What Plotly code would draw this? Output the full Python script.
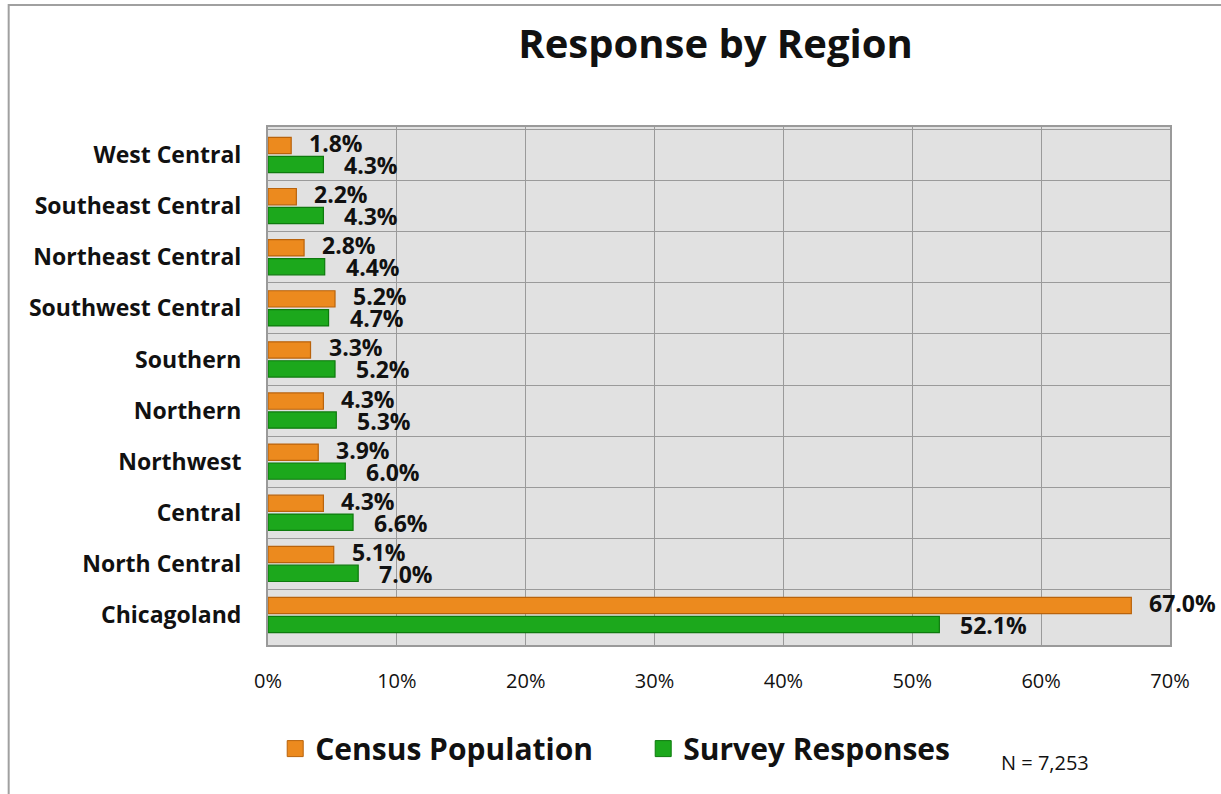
import plotly.graph_objects as go

# Regions listed top to bottom as they appear on the chart
regions = ["West Central", "Southeast Central", "Northeast Central", "Southwest Central",
           "Southern", "Northern", "Northwest", "Central", "North Central", "Chicagoland"]
census_population = [1.8, 2.2, 2.8, 5.2, 3.3, 4.3, 3.9, 4.3, 5.1, 67.0]
survey_responses = [4.3, 4.3, 4.4, 4.7, 5.2, 5.3, 6.0, 6.6, 7.0, 52.1]
x_ticks = [0, 10, 20, 30, 40, 50, 60, 70]
x_tick_labels = ["0%", "10%", "20%", "30%", "40%", "50%", "60%", "70%"]

FONT = "'Open Sans', Lato, sans-serif"
ORANGE, ORANGE_EDGE = "#EC8A1E", "#B9630C"
GREEN, GREEN_EDGE = "#1CA81C", "#0D7A0D"

fig = go.Figure()
fig.add_trace(go.Bar(
    name="Census Population", y=regions, x=census_population, orientation="h",
    marker=dict(color=ORANGE, line=dict(color=ORANGE_EDGE, width=1.2)),
    showlegend=False, hovertemplate="%{y}: %{x:.1f}%<extra></extra>",
))
fig.add_trace(go.Bar(
    name="Survey Responses", y=regions, x=survey_responses, orientation="h",
    marker=dict(color=GREEN, line=dict(color=GREEN_EDGE, width=1.2)),
    showlegend=False, hovertemplate="%{y}: %{x:.1f}%<extra></extra>",
))

# Legend entries with larger square swatches
for name, col, edge in [("Census Population", ORANGE, ORANGE_EDGE),
                        ("Survey Responses", GREEN, GREEN_EDGE)]:
    fig.add_trace(go.Scatter(
        name=name, x=[None], y=[None], mode="markers",
        marker=dict(symbol="square", size=18, color=col, line=dict(color=edge, width=1)),
        hoverinfo="skip",
    ))

# Value labels placed just past the end of each bar
annotations = []
for region, c, s in zip(regions, census_population, survey_responses):
    annotations.append(dict(x=c, y=region, text=f"<b>{c:.1f}%</b>", showarrow=False,
                            xanchor="left", yanchor="middle", xshift=16, yshift=12,
                            font=dict(family=FONT, size=23, color="#111")))
    annotations.append(dict(x=s, y=region, text=f"<b>{s:.1f}%</b>", showarrow=False,
                            xanchor="left", yanchor="middle", xshift=19, yshift=-10,
                            font=dict(family=FONT, size=23, color="#111")))

annotations.append(dict(text="N = 7,253", xref="paper", yref="paper", x=0.81, y=-0.226,
                        xanchor="left", yanchor="middle", showarrow=False,
                        font=dict(family=FONT, size=20, color="#111")))

fig.update_layout(
    width=1221, height=794,
    margin=dict(l=268, r=51, t=127, b=149),
    paper_bgcolor="white", plot_bgcolor="#E1E1E1",
    barmode="group", bargap=0.26, bargroupgap=0.14,
    title=dict(text="<b>Response by Region</b>", x=0.586, xanchor="center", y=0.945,
               yanchor="middle", font=dict(family=FONT, size=40, color="#111")),
    font=dict(family=FONT, color="#111"),
    showlegend=True,
    legend=dict(orientation="h", x=0.008, y=-0.2, xanchor="left", yanchor="middle",
                font=dict(family=FONT, size=30, color="#111", weight="bold"),
                itemwidth=30, entrywidth=323),
    annotations=annotations,
    shapes=[dict(type="rect", xref="paper", yref="paper",
                 x0=-0.2875, x1=1.1, y0=-0.4, y1=1.2355,
                 line=dict(color="#A0A0A0", width=2), fillcolor="rgba(0,0,0,0)", layer="below")],
)

fig.update_xaxes(
    range=[0, 70], tickvals=x_ticks, ticktext=x_tick_labels,
    showgrid=True, gridcolor="#9A9A9A", gridwidth=1.2,
    showline=True, linecolor="#9A9A9A", linewidth=2, mirror=True,
    zeroline=False, ticks="", ticklabelstandoff=17,
    tickfont=dict(family=FONT, size=20, color="#111"),
)
fig.update_yaxes(
    categoryorder="array", categoryarray=regions, autorange="reversed",
    tickson="boundaries", showgrid=True, gridcolor="#9A9A9A", gridwidth=1.2,
    showline=True, linecolor="#9A9A9A", linewidth=2, mirror=True,
    ticks="", ticklabelstandoff=20,
    tickfont=dict(family=FONT, size=23, color="#111", weight="bold"),
)

fig.write_html("out.html")
